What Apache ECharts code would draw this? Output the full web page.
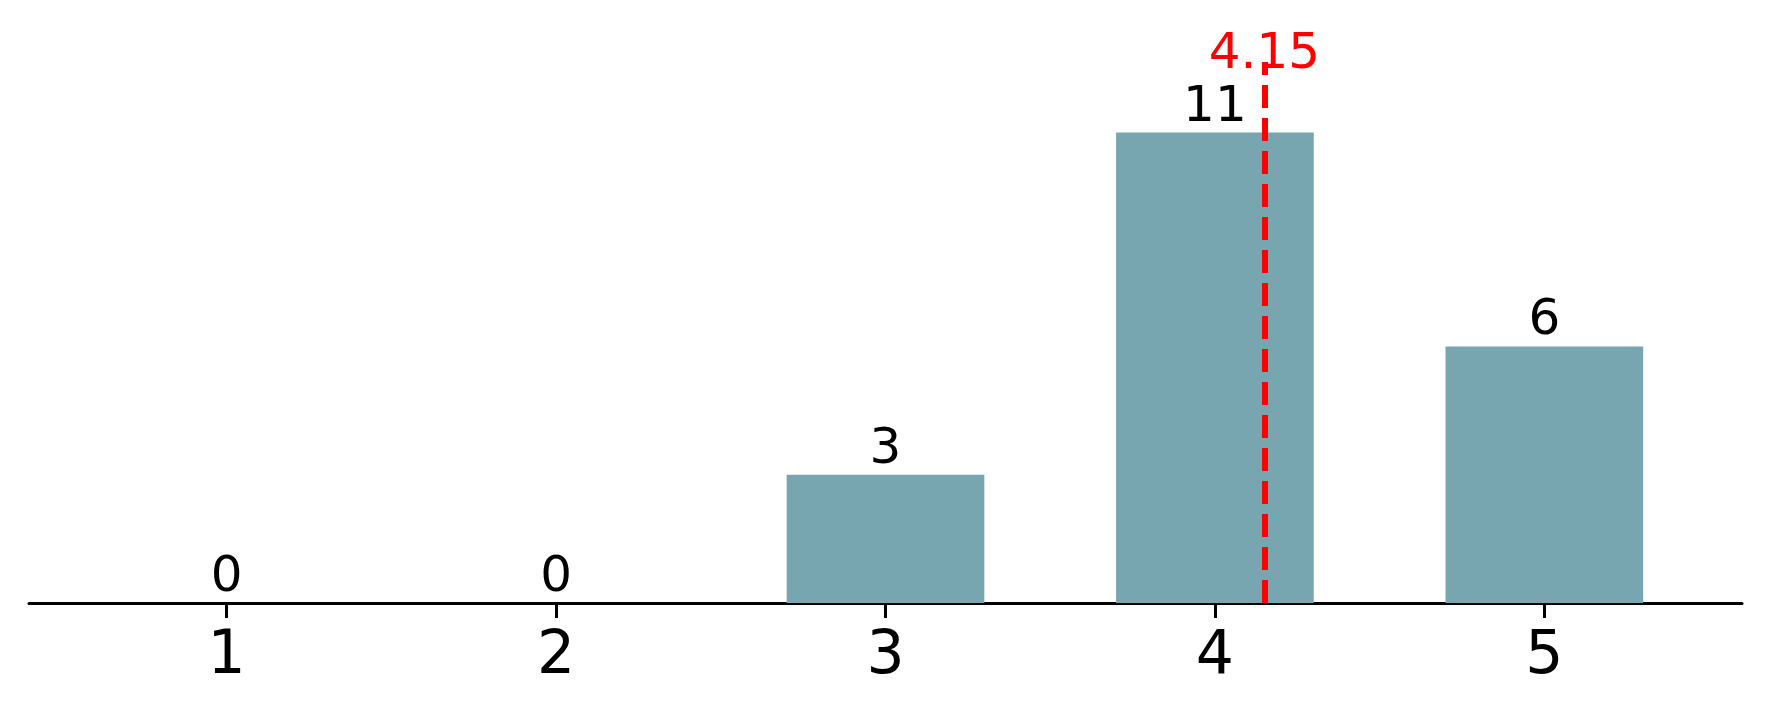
<!DOCTYPE html>
<html>
<head>
<meta charset="utf-8">
<script src="https://cdn.jsdelivr.net/npm/echarts@6/dist/echarts.min.js"></script>
<style>
html,body{margin:0;padding:0;background:#fff;}
#chart{width:1770px;height:719px;}
</style>
</head>
<body>
<div id="chart"></div>
<script>
const categories = [1, 2, 3, 4, 5];
const counts = [0, 0, 3, 11, 6];
const meanValue = 4.15;
const tickLabels = ['1', '2', '3', '4', '5'];

const chart = echarts.init(document.getElementById('chart'), null, {renderer: 'canvas'});
const FONT = 'DejaVu Sans';
chart.setOption({
  animation: false,
  backgroundColor: '#ffffff',
  grid: {left: 29, right: 28, top: 62, bottom: 116, containLabel: false},
  xAxis: {
    type: 'value',
    min: 0.4,
    max: 5.6,
    splitLine: {show: false},
    axisLine: {show: true, onZero: false, lineStyle: {color: '#000', width: 3}},
    axisTick: {show: true, customValues: categories, length: 15, lineStyle: {color: '#000', width: 3}},
    axisLabel: {
      show: true,
      customValues: categories,
      margin: 24,
      fontFamily: FONT,
      fontSize: 60,
      color: '#000',
      formatter: function (v) { return tickLabels[categories.indexOf(v)] ?? String(v); }
    }
  },
  yAxis: {
    type: 'value',
    min: 0,
    max: 12.65,
    show: false,
    splitLine: {show: false}
  },
  series: [{
    type: 'bar',
    data: categories.map((c, i) => [c, counts[i]]),
    barWidth: '60%',
    itemStyle: {color: '#77a5b0'},
    label: {
      show: true,
      position: 'top',
      distance: 0,
      fontFamily: FONT,
      fontSize: 50,
      color: '#000',
      formatter: p => String(p.value[1])
    },
    markLine: {
      silent: true,
      symbol: ['none', 'none'],
      lineStyle: {color: '#ff0000', width: 6, type: [23, 10]},
      label: {
        show: true,
        position: 'end',
        distance: -18,
        fontFamily: FONT,
        fontSize: 50,
        color: '#ff0000',
        formatter: String(meanValue)
      },
      data: [{xAxis: meanValue}]
    }
  }]
});
</script>
</body>
</html>
